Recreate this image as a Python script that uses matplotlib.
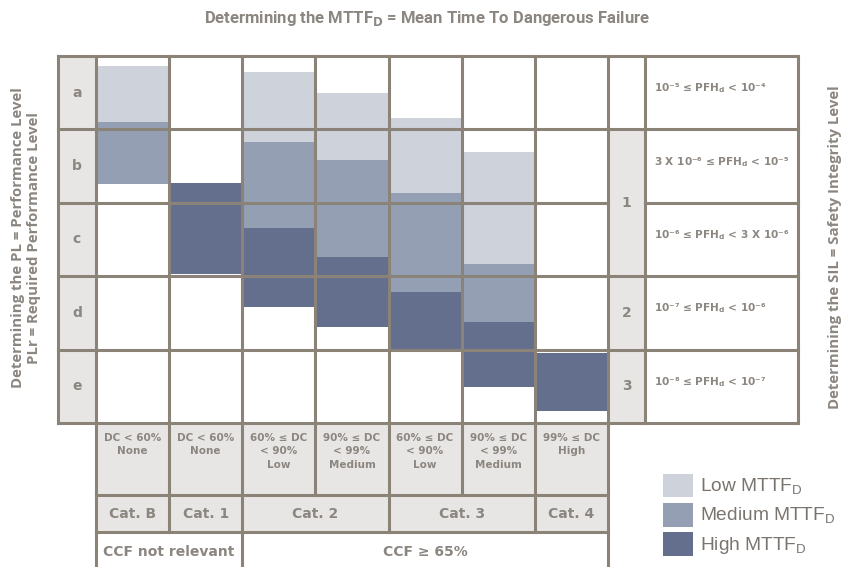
import numpy as np
import matplotlib
matplotlib.use('Agg')
import matplotlib.pyplot as plt
from matplotlib.patches import Patch, Rectangle

plt.rcParams['mathtext.fontset'] = 'custom'
plt.rcParams['mathtext.rm'] = 'Liberation Sans'
plt.rcParams['mathtext.bf'] = 'DejaVu Sans:bold'

# ---------------- data ----------------
pl_levels = ['a', 'b', 'c', 'd', 'e']
dc_labels = ['DC < 60%\nNone', 'DC < 60%\nNone', '60% ≤ DC\n< 90%\nLow',
             '90% ≤ DC\n< 99%\nMedium', '60% ≤ DC\n< 90%\nLow',
             '90% ≤ DC\n< 99%\nMedium', '99% ≤ DC\nHigh']
categories = ['Cat. B', 'Cat. 1', 'Cat. 2', 'Cat. 3', 'Cat. 4']
category_span = [1, 1, 2, 2, 1]
ccf_labels = ['CCF not relevant', 'CCF ≥ 65%']
ccf_span = [2, 5]
sil_levels = ['', '1', '2', '3']
sil_span = [1, 2, 1, 1]
pfh_labels = ['10⁻⁵ ≤ PFH$_\\mathbf{d}$ < 10⁻⁴',
              '3 X 10⁻⁶ ≤ PFH$_\\mathbf{d}$ < 10⁻⁵',
              '10⁻⁶ ≤ PFH$_\\mathbf{d}$ < 3 X 10⁻⁶',
              '10⁻⁷ ≤ PFH$_\\mathbf{d}$ < 10⁻⁶',
              '10⁻⁸ ≤ PFH$_\\mathbf{d}$ < 10⁻⁷']

# MTTFd bar extents in PL rows (0 = top of row a, 5 = bottom of row e); nan = no bar
low_top = [0.14, np.nan, 0.22, 0.50, 0.84, 1.31, np.nan]
low_bot = [0.90, np.nan, 1.17, 1.42, 1.87, 2.83, np.nan]
med_top = [0.90, np.nan, 1.17, 1.42, 1.87, 2.83, np.nan]
med_bot = [1.74, np.nan, 2.34, 2.74, 3.22, 3.62, np.nan]
high_top = [np.nan, 1.73, 2.34, 2.74, 3.22, 3.62, 4.05]
high_bot = [np.nan, 2.97, 3.42, 3.69, 3.99, 4.51, 4.84]

series_names = ['Low MTTF$_\\mathrm{D}$', 'Medium MTTF$_\\mathrm{D}$', 'High MTTF$_\\mathrm{D}$']
series_colors = ['#CDD2DB', '#959FB4', '#646F8E']

# ---------------- style ----------------
LINE = '#8B8378'
CELL = '#E8E6E4'
TXT = '#8C8680'
LW = 2.2
LABEL_W, SIL_W, PFH_W = 0.52, 0.51, 2.09
DC_H, CAT_H = 0.98, 0.51

fig = plt.figure(figsize=(8.42, 5.67), dpi=100)
ax = fig.add_axes([0, 0, 1, 1])
ax.set_xlim(-1.3125, 10.2)
ax.set_ylim(6.962, -0.763)
ax.axis('off')

n = len(dc_labels)
nrows = len(pl_levels)
xs = np.arange(n)
x_sil = n
x_pfh = n + SIL_W
x_end = x_pfh + PFH_W
y_dc = nrows
y_cat = y_dc + DC_H
y_ccf = y_cat + CAT_H
y_bot = 7.3

# background cells
ax.add_patch(Rectangle((-LABEL_W, 0), LABEL_W, nrows, color=CELL, lw=0, zorder=1))
ax.add_patch(Rectangle((0, y_dc), n, DC_H + CAT_H, color=CELL, lw=0, zorder=1))
r0 = 0
for lab, sp in zip(sil_levels, sil_span):
    if lab:
        ax.add_patch(Rectangle((x_sil, r0), SIL_W, sp, color=CELL, lw=0, zorder=1))
    r0 += sp

# bars
for top, bot, col in [(low_top, low_bot, series_colors[0]),
                      (med_top, med_bot, series_colors[1]),
                      (high_top, high_bot, series_colors[2])]:
    top = np.array(top); bot = np.array(bot)
    m = ~np.isnan(top)
    ax.bar(xs[m], (bot - top)[m], bottom=top[m], width=1, align='edge',
           color=col, linewidth=0, zorder=2)

# grid lines
kw = dict(colors=LINE, linewidth=LW, zorder=3, capstyle='projecting')
sil_bounds = np.cumsum([0] + sil_span)
for r in range(nrows + 1):
    if r in sil_bounds:
        ax.hlines(r, -LABEL_W, x_end, **kw)
    else:
        ax.hlines(r, -LABEL_W, x_sil, **kw)
        ax.hlines(r, x_pfh, x_end, **kw)
for x in [-LABEL_W] + list(range(n + 1)) + [x_pfh, x_end]:
    ax.vlines(x, 0, nrows, **kw)
ax.vlines(np.arange(n + 1), y_dc, y_cat, **kw)
ax.vlines(np.cumsum([0] + category_span), y_cat, y_ccf, **kw)
ax.vlines(np.cumsum([0] + ccf_span), y_ccf, y_bot, **kw)
ax.hlines([y_cat, y_ccf], 0, n, **kw)

# texts
bold = dict(color=TXT, fontweight='bold', family='DejaVu Sans', zorder=4)
for r, lab in enumerate(pl_levels):
    ax.text(-LABEL_W / 2, r + 0.5, lab, ha='center', va='center', fontsize=10, **bold)
r0 = 0
for lab, sp in zip(sil_levels, sil_span):
    if lab:
        ax.text(x_sil + SIL_W / 2, r0 + sp / 2, lab, ha='center', va='center',
                fontsize=10, **bold)
    r0 += sp
for r, lab in enumerate(pfh_labels):
    ax.text(x_pfh + 0.12, r + 0.44, lab, ha='left', va='center', fontsize=7.6, **bold)
for i, lab in enumerate(dc_labels):
    ax.text(i + 0.5, y_dc + 0.14, lab, ha='center', va='top', fontsize=7.5,
            linespacing=1.4, **bold)
c0 = 0
for lab, sp in zip(categories, category_span):
    ax.text(c0 + sp / 2, (y_cat + y_ccf) / 2, lab, ha='center', va='center',
            fontsize=10, **bold)
    c0 += sp
c0 = 0
for lab, sp in zip(ccf_labels, ccf_span):
    ax.text(c0 + sp / 2, y_ccf + 0.27, lab, ha='center', va='center',
            fontsize=10, **bold)
    c0 += sp

fig.text(0.507, 1 - 19 / 567, 'Determining the MTTF$_\\mathbf{D}$ = Mean Time To Dangerous Failure',
         ha='center', va='center', fontsize=12, color=TXT, fontweight='bold',
         family=['Roboto', 'DejaVu Sans'])
side = dict(color=TXT, fontweight='bold', family=['Open Sans', 'DejaVu Sans'],
            rotation=90, ha='center', va='center', fontsize=10.8)
fig.text(18 / 842, 1 - 238 / 567, 'Determining the PL = Performance Level', **side)
fig.text(34 / 842, 1 - 238 / 567, 'PLr = Required Performance Level', **side)
fig.text(835 / 842, 1 - 247 / 567, 'Determining the SIL = Safety Integrity Level', **side)

handles = [Patch(facecolor=c, edgecolor='none', label=l) for c, l in zip(series_colors, series_names)]
leg = fig.legend(handles=handles, loc='upper left', bbox_to_anchor=(663 / 842, 1 - 474 / 567),
                 frameon=False, borderpad=0, borderaxespad=0,
                 handlelength=1.55, handleheight=1.5, handletextpad=0.4, labelspacing=0.3,
                 prop={'family': 'Liberation Sans', 'size': 13.8})
for t in leg.get_texts():
    t.set_color('#7A746E')

fig.savefig('out.png', dpi=100)
